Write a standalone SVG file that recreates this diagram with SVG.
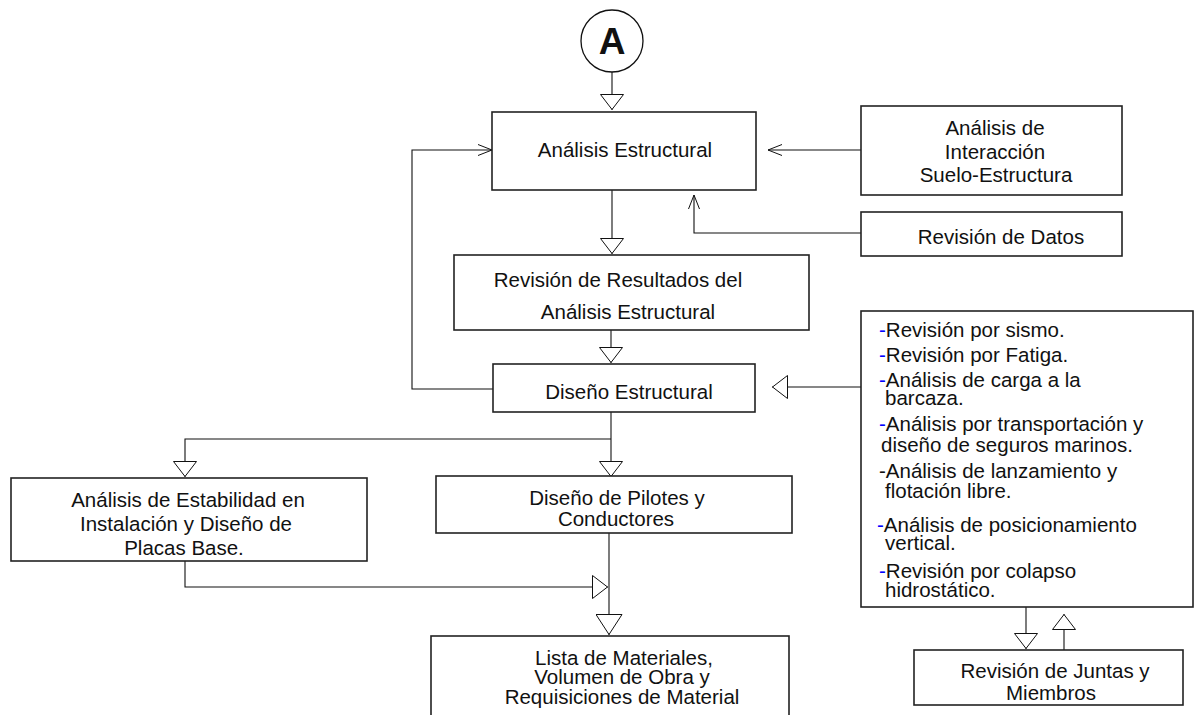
<svg xmlns="http://www.w3.org/2000/svg" width="1194" height="715" viewBox="0 0 1194 715">
<style>
.box{fill:#fff;stroke:#222;stroke-width:1.6}
.ln{fill:none;stroke:#111;stroke-width:1.1}
.t{font-family:"Liberation Sans",Arial,sans-serif;font-size:20.5px;fill:#111}
.c{text-anchor:middle}
.b{fill:#0000ff}
</style>
<defs>
<marker id="tri" viewBox="0 0 16 24" refX="16" refY="12" markerWidth="16" markerHeight="24" markerUnits="userSpaceOnUse" orient="auto">
<path d="M0.5,0.5 L15.5,12 L0.5,23.5 Z" fill="#fff" stroke="#111" stroke-width="1"/>
</marker>
<marker id="triL" viewBox="0 0 21 27" refX="21" refY="13.5" markerWidth="21" markerHeight="27" markerUnits="userSpaceOnUse" orient="auto">
<path d="M0.5,0.5 L20.5,13.5 L0.5,26.5 Z" fill="#fff" stroke="#111" stroke-width="1"/>
</marker>
<marker id="chev" viewBox="0 0 14 12" refX="14" refY="6" markerWidth="14" markerHeight="12" markerUnits="userSpaceOnUse" orient="auto">
<path d="M0,0.5 L14,6 L0,11.5" fill="none" stroke="#111" stroke-width="1"/>
</marker>
</defs>

<g id="connectors">
<path class="ln" d="M612,72 V110" marker-end="url(#tri)"/>
<path class="ln" d="M612,190 V254" marker-end="url(#tri)"/>
<path class="ln" d="M611,330 V363" marker-end="url(#tri)"/>
<path class="ln" d="M861,150 H768" marker-end="url(#chev)"/>
<path class="ln" d="M861,233 H694 V195" marker-end="url(#chev)"/>
<path class="ln" d="M494,389 H412 V150 H492" marker-end="url(#chev)"/>
<path class="ln" d="M861,387 H772" marker-end="url(#tri)"/>
<path class="ln" d="M611,412 V477" marker-end="url(#tri)"/>
<path class="ln" d="M611,439 H185 V477" marker-end="url(#tri)"/>
<path class="ln" d="M609,533 V635" marker-end="url(#triL)"/>
<path class="ln" d="M185,561 V587 H608" marker-end="url(#tri)"/>
<path class="ln" d="M1026,607 V649" marker-end="url(#tri)"/>
<path class="ln" d="M1064,650 V614" marker-end="url(#tri)"/>
</g>

<g id="nodeA">
<circle cx="612" cy="41" r="31" fill="#fff" stroke="#111" stroke-width="1.3"/>
<text x="612" y="54" class="c" style="font-family:'Liberation Sans',Arial,sans-serif;font-size:37px;font-weight:bold;fill:#111">A</text>
</g>

<g id="analisisEstructural">
<rect class="box" x="492" y="112" width="264" height="78"/>
<text class="t c" x="625" y="157">Análisis Estructural</text>
</g>

<g id="interaccion">
<rect class="box" x="861" y="106" width="261" height="89"/>
<text class="t c" x="995" y="135">Análisis de</text>
<text class="t c" x="995" y="159">Interacción</text>
<text class="t c" x="996" y="182">Suelo-Estructura</text>
</g>

<g id="revisionDatos">
<rect class="box" x="861" y="212" width="261" height="44"/>
<text class="t c" x="1001" y="244">Revisión de Datos</text>
</g>

<g id="revisionResultados">
<rect class="box" x="454" y="255" width="355" height="75"/>
<text class="t c" x="618" y="287">Revisión de Resultados del</text>
<text class="t c" x="628" y="319">Análisis Estructural</text>
</g>

<g id="disenoEstructural">
<rect class="box" x="493" y="364" width="262" height="48"/>
<text class="t c" x="629" y="399">Diseño Estructural</text>
</g>

<g id="listaRevisiones">
<rect class="box" x="861" y="311" width="332" height="296"/>
<text class="t" x="879" y="337"><tspan class="b">-</tspan>Revisión por sismo.</text>
<text class="t" x="879" y="362"><tspan class="b">-</tspan>Revisión por Fatiga.</text>
<text class="t" x="879" y="387"><tspan class="b">-</tspan>Análisis de carga a la</text>
<text class="t" x="885" y="405">barcaza.</text>
<text class="t" x="879" y="431"><tspan class="b">-</tspan>Análisis por transportación y</text>
<text class="t" x="881" y="452">diseño de seguros marinos.</text>
<text class="t" x="879" y="478">-Análisis de lanzamiento y</text>
<text class="t" x="885" y="498">flotación libre.</text>
<text class="t" x="877" y="532"><tspan class="b">-</tspan>Análisis de posicionamiento</text>
<text class="t" x="885" y="550">vertical.</text>
<text class="t" x="879" y="578"><tspan class="b">-</tspan>Revisión por colapso</text>
<text class="t" x="885" y="597">hidrostático.</text>
</g>

<g id="estabilidad">
<rect class="box" x="11" y="478" width="356" height="83"/>
<text class="t c" x="188" y="507">Análisis de Estabilidad en</text>
<text class="t c" x="186" y="531">Instalación y Diseño de</text>
<text class="t c" x="184" y="555">Placas Base.</text>
</g>

<g id="pilotes">
<rect class="box" x="436" y="476" width="356" height="57"/>
<text class="t c" x="617" y="505">Diseño de Pilotes y</text>
<text class="t c" x="616" y="526">Conductores</text>
</g>

<g id="listaMateriales">
<rect class="box" x="431" y="636" width="358" height="90"/>
<text class="t c" x="624" y="665">Lista de Materiales,</text>
<text class="t c" x="622" y="684">Volumen de Obra y</text>
<text class="t c" x="622" y="704">Requisiciones de Material</text>
</g>

<g id="juntas">
<rect class="box" x="914" y="650" width="269" height="55"/>
<text class="t c" x="1055" y="678">Revisión de Juntas y</text>
<text class="t c" x="1051" y="700">Miembros</text>
</g>
</svg>
